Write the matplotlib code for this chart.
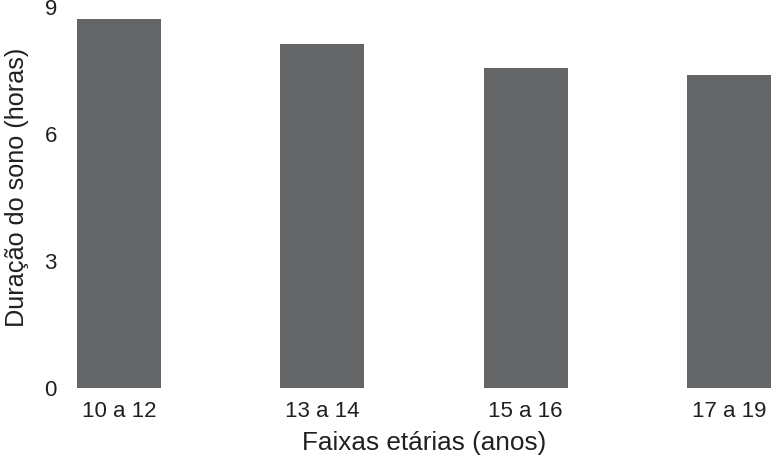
import matplotlib
matplotlib.use('Agg')
import matplotlib.pyplot as plt

plt.rcParams['font.family'] = ['Liberation Sans', 'DejaVu Sans']

# faixas etarias e duracao media do sono (horas)
faixas = ['10 a 12', '13 a 14', '15 a 16', '17 a 19']
horas = [8.72, 8.13, 7.56, 7.39]
yticks = [0, 3, 6, 9]

fig = plt.figure(figsize=(7.71, 4.59), dpi=100)
ax = fig.add_axes([77 / 771, (459 - 388) / 459, 694 / 771, 381 / 459])

w = 0.413
ax.bar(range(len(faixas)), horas, width=w, color='#646567')

ax.set_xlim(-w / 2, len(faixas) - 1 + w / 2)
ax.set_ylim(0, 9)
ax.set_yticks(yticks)
ax.set_xticks(range(len(faixas)))
ax.set_xticklabels(faixas)

for s in ax.spines.values():
    s.set_visible(False)
ax.tick_params(axis='both', length=0, labelsize=16, colors='#231f20')
ax.tick_params(axis='y', pad=14.5)
ax.tick_params(axis='x', pad=9.5)

ax.set_xlabel('Faixas etárias (anos)', fontsize=18.8, color='#231f20', labelpad=6)
ax.set_ylabel('Duração do sono (horas)', fontsize=18.2, color='#231f20', labelpad=11, y=0.526)

plt.savefig('out.png', dpi=100)
